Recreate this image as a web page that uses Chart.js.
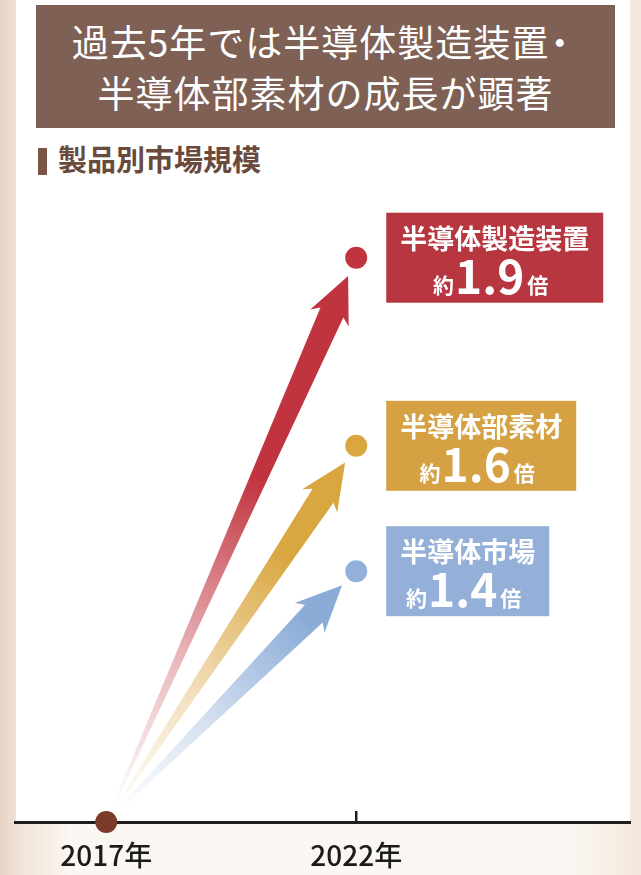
<!DOCTYPE html>
<html lang="ja">
<head>
<meta charset="utf-8">
<script src="https://cdn.jsdelivr.net/npm/chart.js@4/dist/chart.umd.min.js"></script>
<style>
  html, body { margin: 0; padding: 0; }
  body {
    width: 641px; height: 875px; position: relative; overflow: hidden;
    font-family: "Noto Sans CJK JP", "Noto Sans", sans-serif;
    background: linear-gradient(90deg, #e9d3c3 0px, #f0e1d5 16px, #fbf7f2 70px, #fbf7f2 570px, #f4e7db 641px);
  }
  #panel { position: absolute; left: 16px; top: 0; width: 614px; height: 822px; background: #fff; }
  #title {
    position: absolute; left: 36px; top: 5px; width: 579px; height: 123px;
    background: #7e6055; color: #fff; text-align: center;
    font-size: 37px; font-weight: 400; line-height: 51px;
    box-sizing: border-box; padding-top: 11px; letter-spacing: 1px;
  }
  #title b { font-weight: 400; margin-left: -8px; }
  #sub {
    position: absolute; left: 38px; top: 140px; height: 36px;
    font-size: 29px; font-weight: 700; color: #6a4a3d; line-height: 36px;
  }
  #sub i { display: inline-block; width: 9px; height: 27px; background: #7a5546; vertical-align: -4px; margin-right: 11px; }
  #chart { position: absolute; left: 0; top: 0; }
</style>
</head>
<body>
<div id="panel"></div>
<div id="title">過去5年では半導体製造装置<b>・</b><br>半導体部素材の成長が顕著</div>
<div id="sub"><i></i>製品別市場規模</div>
<canvas id="chart" width="641" height="875"></canvas>
<script>
// 2017年を1.0とした製品別の市場規模
const years = [2017, 2022];
const yearLabels = ["2017年", "2022年"];
const seriesNames = ["半導体製造装置", "半導体部素材", "半導体市場"];
const growth = [1.9, 1.6, 1.4];
const baseValue = 1.0;

const dotColors = ["#c0343f", "#d9a640", "#92b0db"];
const boxColors = ["#b8363f", "#d5a143", "#94b0d8"];
const arrowRgb = [[192, 52, 63], [217, 166, 64], [140, 172, 216]];
const arrowFull = [0.62, 0.74, 0.84];

const FONT = '"Noto Sans CJK JP", "Noto Sans", sans-serif';

const datasets = seriesNames.map((name, i) => ({
    label: name,
    data: [{ x: years[0], y: baseValue }, { x: years[1], y: growth[i] }],
    showLine: false,
    clip: false,
    pointRadius: [0, 11],
    pointHoverRadius: [0, 11],
    pointBackgroundColor: dotColors[i],
    pointBorderWidth: 0
}));
// 起点の丸
datasets.push({
    label: "起点",
    data: [{ x: years[0], y: baseValue }],
    clip: false,
    pointRadius: 11,
    pointBackgroundColor: "#7b3a2a",
    pointBorderWidth: 0
});

// 起点から各点へ伸びる矢印（先に向かって濃くなる）
const arrowPlugin = {
    id: "arrows",
    beforeDatasetsDraw(chart) {
        const ctx = chart.ctx;
        for (let i = 0; i < seriesNames.length; i++) {
            const pts = chart.getDatasetMeta(i).data;
            const a = pts[0], b = pts[1];
            const dx = b.x - a.x, dy = b.y - a.y;
            const len = Math.hypot(dx, dy);
            const ux = dx / len, uy = dy / len;
            const nx = -uy, ny = ux;
            const sx = a.x + ux * 16, sy = a.y + uy * 16;
            const tx = b.x - ux * 20, ty = b.y - uy * 20;
            const hx = tx - ux * 40, hy = ty - uy * 40;
            const w0 = 1, w1 = 12.5, hw = 21;
            const [r, g, bl] = arrowRgb[i];
            const grad = ctx.createLinearGradient(sx, sy, tx, ty);
            grad.addColorStop(0, `rgba(${r},${g},${bl},0)`);
            grad.addColorStop(arrowFull[i] * 0.45, `rgba(${r},${g},${bl},0.35)`);
            grad.addColorStop(arrowFull[i] * 0.75, `rgba(${r},${g},${bl},0.7)`);
            grad.addColorStop(arrowFull[i], `rgba(${r},${g},${bl},1)`);
            grad.addColorStop(1, `rgba(${r},${g},${bl},1)`);
            ctx.save();
            ctx.beginPath();
            ctx.moveTo(sx + nx * w0, sy + ny * w0);
            ctx.lineTo(hx + nx * w1, hy + ny * w1);
            ctx.lineTo(hx + nx * hw - ux * 6, hy + ny * hw - uy * 6);
            ctx.lineTo(tx, ty);
            ctx.lineTo(hx - nx * hw - ux * 6, hy - ny * hw - uy * 6);
            ctx.lineTo(hx - nx * w1, hy - ny * w1);
            ctx.lineTo(sx - nx * w0, sy - ny * w0);
            ctx.closePath();
            ctx.fillStyle = grad;
            ctx.fill();
            ctx.restore();
        }
    },
    afterDatasetsDraw(chart) {
        const ctx = chart.ctx;
        const xs = chart.scales.x;
        // 2022年の目盛り
        const tx = xs.getPixelForValue(years[1]);
        ctx.save();
        ctx.strokeStyle = "#1e1e1e";
        ctx.lineWidth = 2.5;
        ctx.beginPath();
        ctx.moveTo(tx, xs.top);
        ctx.lineTo(tx, xs.top - 11);
        ctx.stroke();

        // 倍率ラベル
        for (let i = 0; i < seriesNames.length; i++) {
            const p = chart.getDatasetMeta(i).data[1];
            ctx.font = `700 27px ${FONT}`;
            const w = ctx.measureText(seriesNames[i]).width + 28;
            const left = p.x + 30, top = p.y - 45;
            ctx.fillStyle = boxColors[i];
            ctx.fillRect(left, top, w, 90);
            const cx = left + w / 2;
            ctx.fillStyle = "#fff";
            ctx.textAlign = "center";
            ctx.textBaseline = "middle";
            ctx.fillText(seriesNames[i], cx, p.y - 19);

            const num = growth[i].toFixed(1);
            const small = `700 21px ${FONT}`, big = `700 46px ${FONT}`;
            ctx.font = small;
            const wa = ctx.measureText("約").width, wc = ctx.measureText("倍").width;
            ctx.font = big;
            const wb = ctx.measureText(num).width;
            let x = cx - 4 - (wa + wb + wc + 4) / 2;
            const base = p.y + 35;
            ctx.textAlign = "left";
            ctx.textBaseline = "alphabetic";
            ctx.font = small;
            ctx.fillText("約", x, base);
            x += wa + 1;
            ctx.font = big;
            ctx.fillText(num, x, base + 1);
            x += wb + 3;
            ctx.font = small;
            ctx.fillText("倍", x, base);
        }
        ctx.restore();
    }
};

new Chart(document.getElementById("chart"), {
    type: "scatter",
    data: { datasets },
    plugins: [arrowPlugin],
    options: {
        responsive: false,
        animation: false,
        events: [],
        layout: { padding: { left: 15, right: 6, top: 195, bottom: 0 } },
        plugins: { legend: { display: false }, tooltip: { enabled: false } },
        scales: {
            x: {
                type: "linear",
                min: 2015.175,
                max: 2027.476,
                grid: { display: false },
                border: { display: true, color: "#1e1e1e", width: 3 },
                afterBuildTicks: (axis) => { axis.ticks = years.map(v => ({ value: v })); },
                afterFit: (axis) => { axis.height = 53; },
                ticks: {
                    autoSkip: false,
                    maxRotation: 0,
                    padding: 9,
                    color: "#1b1b1b",
                    font: { family: FONT, size: 28, weight: 500 },
                    callback: (v) => yearLabels[years.indexOf(v)]
                }
            },
            y: { display: false, min: baseValue, max: 2.0 }
        }
    }
});
</script>
</body>
</html>
